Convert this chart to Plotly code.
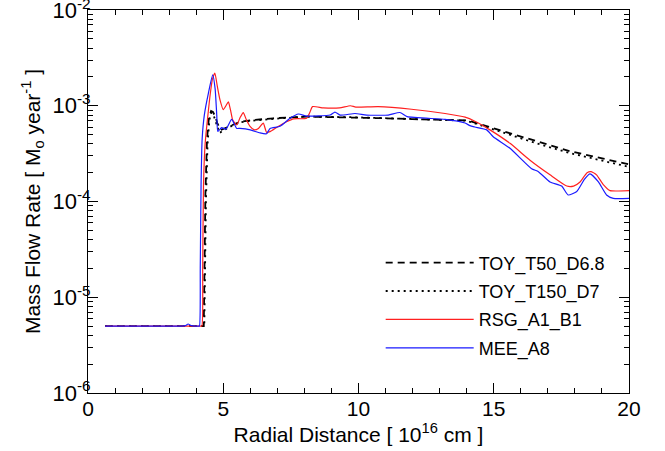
import plotly.graph_objects as go

# ---------------- data ----------------
toy50_x = [0.63, 4.28, 4.34, 4.40, 4.47, 4.55, 4.62, 4.70, 4.78, 4.90, 5.05, 5.37, 5.62, 6.11, 6.85, 8.08,
           9.70, 11.0, 12.0, 13.2, 13.94, 14.12, 14.86, 15.6, 16.58, 17.82, 19.05, 20.0]
toy50_y = [5e-6, 5e-6, 1.2e-4, 4.5e-4, 7.5e-4, 8.8e-4, 8.6e-4, 7.8e-4, 6.6e-4, 5.6e-4, 5.8e-4, 6.4e-4, 6.8e-4,
           7.1e-4, 7.4e-4, 7.7e-4, 7.6e-4, 7.4e-4, 7.25e-4, 7.15e-4, 7.05e-4, 6.9e-4, 5.95e-4, 5.15e-4,
           4.25e-4, 3.35e-4, 2.8e-4, 2.45e-4]

toy150_x = [0.63, 4.30, 4.36, 4.42, 4.49, 4.56, 4.64, 4.72, 4.80, 4.86, 5.00, 5.37, 5.62, 6.11, 6.85, 8.08,
            9.70, 11.0, 12.0, 13.2, 13.94, 14.12, 14.86, 15.6, 16.58, 17.82, 19.05, 20.0]
toy150_y = [5e-6, 5e-6, 1.0e-4, 4.0e-4, 7.2e-4, 8.5e-4, 8.0e-4, 6.8e-4, 5.6e-4, 5.2e-4, 5.5e-4, 6.3e-4, 6.7e-4,
            7.0e-4, 7.3e-4, 7.7e-4, 7.6e-4, 7.4e-4, 7.2e-4, 7.1e-4, 7.0e-4, 6.8e-4, 5.8e-4, 4.95e-4,
            4.05e-4, 3.2e-4, 2.67e-4, 2.3e-4]

rsg_x = [0.63, 2.0, 3.5, 4.0, 4.15, 4.21, 4.24, 4.27, 4.33, 4.40, 4.50, 4.60, 4.69, 4.78, 4.88, 5.00, 5.10,
         5.19, 5.27, 5.35, 5.50, 5.62, 5.74, 5.85, 5.99, 6.15, 6.30, 6.48, 6.60, 6.75, 7.00, 7.34, 7.60,
         8.08, 8.20, 8.30, 8.70, 9.30, 9.70, 9.90, 10.73, 11.96, 13.2, 13.94, 14.3, 14.86, 15.6, 16.34,
         17.08, 17.7, 17.95, 18.19, 18.45, 18.6, 18.8, 19.05, 19.3, 20.0]
rsg_y = [5e-6, 5e-6, 5e-6, 5e-6, 5e-6, 5e-6, 2.0e-5, 1.5e-4, 4.0e-4, 6.5e-4, 1.2e-3, 1.9e-3, 2.2e-3, 1.6e-3,
         1.15e-3, 9.1e-4, 1.0e-3, 1.1e-3, 9.0e-4, 7.1e-4, 6.3e-4, 7.5e-4, 8.5e-4, 7.2e-4, 6.1e-4, 5.6e-4,
         5.8e-4, 6.6e-4, 5.3e-4, 5.4e-4, 6.0e-4, 6.8e-4, 7.3e-4, 7.4e-4, 8.5e-4, 9.8e-4, 9.5e-4, 9.5e-4,
         1.0e-3, 9.7e-4, 9.8e-4, 9.2e-4, 8.3e-4, 7.6e-4, 6.9e-4, 5.6e-4, 4.05e-4, 2.7e-4, 1.9e-4, 1.45e-4,
         1.45e-4, 1.6e-4, 2.0e-4, 2.05e-4, 1.9e-4, 1.5e-4, 1.3e-4, 1.3e-4]

mee_x = [0.63, 2.0, 3.45, 3.60, 3.70, 3.82, 3.95, 4.08, 4.12, 4.15, 4.18, 4.22, 4.30, 4.45, 4.61, 4.70, 4.76,
         4.80, 4.94, 5.10, 5.31, 5.50, 5.62, 6.00, 6.36, 6.60, 6.73, 7.10, 7.47, 7.78, 8.08, 8.95, 9.13,
         9.32, 9.87, 10.3, 11.1, 11.53, 11.8, 13.2, 13.94, 14.12, 14.3, 14.74, 14.98, 15.6, 16.4, 16.65,
         17.08, 17.51, 17.75, 18.07, 18.35, 18.56, 18.87, 19.17, 19.42, 20.0]
mee_y = [5e-6, 5e-6, 5e-6, 5.05e-6, 5.25e-6, 5.05e-6, 5e-6, 5e-6, 5e-6, 2.0e-5, 1.5e-4, 4.5e-4, 8.0e-4, 1.35e-3,
         2.1e-3, 1.5e-3, 8.0e-4, 5.4e-4, 5.9e-4, 5.7e-4, 7.2e-4, 5.8e-4, 5.8e-4, 5.6e-4, 5.2e-4, 5.1e-4,
         5.8e-4, 6.1e-4, 7.4e-4, 8.2e-4, 7.8e-4, 8.0e-4, 8.6e-4, 8.0e-4, 8.3e-4, 8.0e-4, 8.0e-4, 8.5e-4,
         7.7e-4, 7.2e-4, 6.6e-4, 6.2e-4, 6.0e-4, 5.6e-4, 4.75e-4, 3.6e-4, 2.2e-4, 2.05e-4, 1.6e-4, 1.45e-4,
         1.17e-4, 1.27e-4, 1.7e-4, 1.94e-4, 1.6e-4, 1.17e-4, 1.08e-4, 1.08e-4]

series_names = ["TOY_T50_D6.8", "TOY_T150_D7", "RSG_A1_B1", "MEE_A8"]

y_tickvals = [1e-6, 1e-5, 1e-4, 1e-3, 1e-2]
y_ticktext = ["10<sup>-6</sup>", "10<sup>-5</sup>", "10<sup>-4</sup>", "10<sup>-3</sup>", "10<sup>-2</sup>"]
x_tickvals = [0, 5, 10, 15, 20]
x_ticktext = ["0", "5", "10", "15", "20"]

# ---------------- figure ----------------
FONT = "Liberation Sans, Arial, Helvetica, sans-serif"
fig = go.Figure()

fig.add_trace(go.Scatter(x=toy50_x, y=toy50_y, mode="lines", name=series_names[0], legendgroup="a",
                         line=dict(color="black", width=1.8, dash="7px,5px")))
fig.add_trace(go.Scatter(x=toy150_x, y=toy150_y, mode="lines", name=series_names[1], legendgroup="b",
                         line=dict(color="black", width=1.8, dash="2px,4px")))
fig.add_trace(go.Scatter(x=rsg_x, y=rsg_y, mode="lines", name=series_names[2], legendgroup="c",
                         line=dict(color="#ff2020", width=1.2, shape="spline", smoothing=0.5)))
fig.add_trace(go.Scatter(x=mee_x, y=mee_y, mode="lines", name=series_names[3], legendgroup="d",
                         line=dict(color="#1a1aff", width=1.2, shape="spline", smoothing=0.5)))

y_minor = [k * 10.0 ** e for e in range(-6, -2) for k in range(2, 10)]

fig.update_layout(
    width=665, height=451,
    margin=dict(l=88, r=36, t=10, b=58),
    paper_bgcolor="white", plot_bgcolor="white",
    font=dict(family=FONT, color="black", size=21),
    showlegend=True,
    legend=dict(x=0.541, y=0.388, xanchor="left", yanchor="top",
                bgcolor="rgba(0,0,0,0)", borderwidth=0,
                font=dict(size=18, family=FONT, color="black"),
                itemwidth=88, tracegroupgap=2),
    xaxis=dict(range=[0, 20], tickmode="array", tickvals=x_tickvals, ticktext=x_ticktext,
               ticks="inside", ticklen=10, tickwidth=1, tickcolor="black",
               showline=True, linecolor="black", linewidth=1, mirror="ticks",
               showgrid=False, zeroline=False, automargin=False,
               tickfont=dict(size=21), ticklabelstandoff=-3, ticklabeloverflow="allow",
               minor=dict(dtick=1, ticks="inside", ticklen=5, tickcolor="black", showgrid=False),
               title=dict(text="Radial Distance [ 10<sup>16</sup> cm ]", font=dict(size=21), standoff=2)),
    yaxis=dict(type="log", range=[-6.0005, -1.9995], tickmode="array", tickvals=y_tickvals,
               ticktext=y_ticktext,
               ticks="inside", ticklen=10, tickwidth=1, tickcolor="black",
               showline=True, linecolor="black", linewidth=1, mirror="ticks",
               showgrid=False, zeroline=False, automargin=False,
               tickfont=dict(size=22), ticklabelstandoff=-8, ticklabeloverflow="allow",
               minor=dict(tickmode="array", tickvals=y_minor, ticks="inside", ticklen=5,
                          tickcolor="black", showgrid=False),
               title=dict(text="Mass Flow Rate [ M<sub>o</sub> year<sup>-1</sup> ]", font=dict(size=21),
                          standoff=6)),
)

fig.write_html("out.html", config={"displayModeBar": False},
               post_script="document.body.style.margin='0';")
